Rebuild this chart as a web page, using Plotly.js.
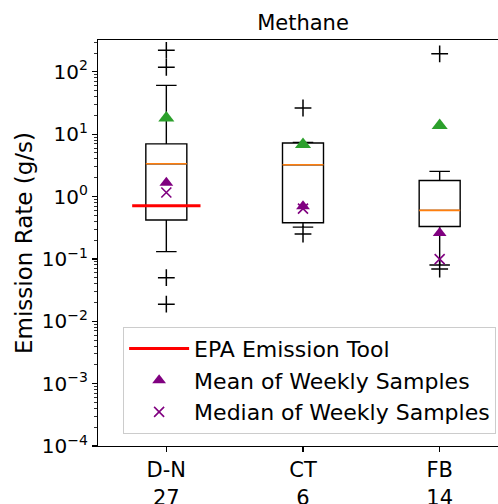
<!DOCTYPE html>
<html>
<head>
<meta charset="utf-8">
<script src="https://cdn.plot.ly/plotly-3.0.1.min.js"></script>
<style>
html, body { margin: 0; padding: 0; overflow: hidden; background: #fff; }
#chart { width: 520px; height: 504px; }
</style>
</head>
<body>
<div id="chart"></div>
<script>
// ---- data ----
var categories = ['D-N', 'CT', 'FB'];
var counts = [27, 6, 14];
var q1 = [0.42, 0.38, 0.33];
var medians = [3.36, 3.24, 0.60];
var q3 = [7.0, 7.2, 1.81];
var lowerWhisker = [0.131, 0.323, 0.080];
var upperWhisker = [60.7, 7.4, 2.53];
var boxMeans = [18.2, 6.8, 13.8];
var fliersDN = [221, 118, 0.050, 0.0188];
var fliersCT = [26.3, 0.25];
var fliersFB = [194, 0.0686];
var weeklyMean = [1.66, 0.70, 0.26];
var weeklyMedian = [1.16, 0.64, 0.099];
var epaValue = 0.71;          // EPA Emission Tool, D-N only
var yTickExponents = [-4, -3, -2, -1, 0, 1, 2];

// ---- build traces ----
var positions = categories.map(function (c, i) { return i + 1; });
var boxWidth = 0.3;

var traces = [];

traces.push({
  type: 'box',
  orientation: 'v',
  x: positions,
  q1: q1, median: medians, q3: q3,
  lowerfence: lowerWhisker, upperfence: upperWhisker,
  width: boxWidth,
  whiskerwidth: 0.5,
  boxpoints: false,
  fillcolor: 'rgba(0,0,0,0)',
  line: { color: '#000000', width: 1.4 },
  showlegend: false,
  hoverinfo: 'skip'
});

// orange median lines
var mx = [], my = [];
positions.forEach(function (p, i) {
  mx.push(p - boxWidth / 2, p + boxWidth / 2, null);
  my.push(medians[i], medians[i], null);
});
traces.push({
  type: 'scatter', mode: 'lines', x: mx, y: my,
  line: { color: '#ff7f0e', width: 1.6 },
  showlegend: false, hoverinfo: 'skip'
});

// fliers
var fliers = [fliersDN, fliersCT, fliersFB];
var fx = [], fy = [];
fliers.forEach(function (arr, i) {
  arr.forEach(function (v) { fx.push(positions[i]); fy.push(v); });
});
traces.push({
  type: 'scatter', mode: 'markers', x: fx, y: fy,
  marker: { symbol: 'cross-thin', size: 12, line: { color: '#000000', width: 1.5 } },
  showlegend: false, hoverinfo: 'skip'
});

// box means (green triangles)
traces.push({
  type: 'scatter', mode: 'markers', x: positions, y: boxMeans,
  marker: { symbol: 'triangle-up', size: 14, color: '#2ca02c' },
  showlegend: false, hoverinfo: 'skip'
});

// EPA line
traces.push({
  type: 'scatter', mode: 'lines',
  x: [positions[0] - 0.25, positions[0] + 0.25],
  y: [epaValue, epaValue],
  line: { color: '#ff0000', width: 3 },
  name: 'EPA Emission Tool'
});

// weekly mean
traces.push({
  type: 'scatter', mode: 'markers', x: positions, y: weeklyMean,
  marker: { symbol: 'triangle-up', size: 12, color: '#800080' },
  name: 'Mean of Weekly Samples'
});

// weekly median
traces.push({
  type: 'scatter', mode: 'markers', x: positions, y: weeklyMedian,
  marker: { symbol: 'x-thin', size: 10, line: { color: '#800080', width: 1.6 } },
  name: 'Median of Weekly Samples'
});

// ---- axes ----
var tickVals = yTickExponents.map(function (e) { return Math.pow(10, e); });
var tickText = yTickExponents.map(function (e) {
  return '10<sup>' + (e < 0 ? '\u2212' + (-e) : e) + '</sup>';
});
var minorVals = [];
for (var e = -4; e <= 2; e++) {
  for (var k = 2; k <= 9; k++) minorVals.push(k * Math.pow(10, e));
}
var xTickText = categories.map(function (c, i) { return c + '<br>' + counts[i]; });

var font = 'DejaVu Sans, sans-serif';

var layout = {
  width: 520, height: 504,
  margin: { l: 98, r: 12, t: 40, b: 58, pad: 0 },
  paper_bgcolor: '#ffffff', plot_bgcolor: '#ffffff',
  font: { family: font, color: '#000000', size: 20 },
  title: {
    text: 'Methane', font: { family: font, size: 21, color: '#000' },
    x: (98 + 508) / 2 / 520, xanchor: 'center', xref: 'container',
    y: 1 - 23 / 504, yanchor: 'middle', yref: 'container'
  },
  xaxis: {
    range: [0.5, 3.5],
    tickmode: 'array', tickvals: positions, ticktext: xTickText,
    showline: true, linecolor: '#000', linewidth: 1.2, mirror: true,
    ticks: 'outside', ticklen: 5, tickwidth: 1.2, tickcolor: '#000',
    showgrid: false, zeroline: false,
    tickfont: { family: font, size: 21, color: '#000' }
  },
  yaxis: {
    type: 'log', range: [-4, 2.51],
    tickmode: 'array', tickvals: tickVals, ticktext: tickText,
    showline: true, linecolor: '#000', linewidth: 1.2, mirror: true,
    ticks: 'outside', ticklen: 5, tickwidth: 1.2, tickcolor: '#000',
    showgrid: false, zeroline: false,
    tickfont: { family: font, size: 20, color: '#000' },
    minor: { tickmode: 'array', tickvals: minorVals, ticks: 'outside', ticklen: 3, tickwidth: 0.8, tickcolor: '#000', showgrid: false },
    title: { text: 'Emission Rate (g/s)', font: { family: font, size: 23, color: '#000' }, standoff: 2 }
  },
  legend: {
    x: 0.971, xanchor: 'right', y: 0.03, yanchor: 'bottom',
    bgcolor: 'rgba(255,255,255,0.8)', bordercolor: '#cccccc', borderwidth: 1,
    itemwidth: 60,
    font: { family: font, size: 22, color: '#000' }
  },
  showlegend: true
};

Plotly.newPlot('chart', traces, layout, { displayModeBar: false, staticPlot: true });
</script>
</body>
</html>
